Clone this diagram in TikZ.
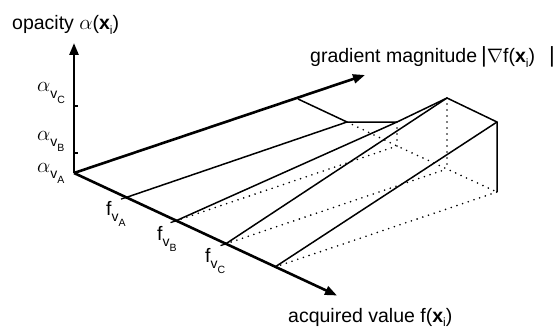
\documentclass[tikz,border=0pt]{standalone}
\usepackage{fix-cm}
\usepackage{fontspec}
\setmainfont{Liberation Sans}
\usetikzlibrary{arrows.meta}
\newcommand\xsubi{\textbf{x}\raisebox{-0.22em}{\fontsize{12}{12}\selectfont i}}
\newcommand\alsym{{\fontsize{21}{21}\selectfont$\alpha$}}
\newcommand\sublab[2]{#1\raisebox{-0.35em}{\fontsize{14}{14}\selectfont v\raisebox{-0.3em}{\fontsize{10.5}{10.5}\selectfont #2}}}
\begin{document}
\begin{tikzpicture}[x=1pt,y=-1pt,
  axis/.style={line width=2.6pt,-{Triangle[length=12pt,width=9pt]}},
  thin/.style={line width=1.5pt,line join=miter},
  dots/.style={line width=1.8pt,line cap=round,dash pattern=on 0pt off 6pt},
  tick/.style={line width=1.3pt},
  lab/.style={inner sep=0pt,anchor=base west,font=\fontsize{19.5}{22}\selectfont}]
\useasboundingbox (0,0) rectangle (554,329);
% coordinates
\coordinate (O) at (74,173);
\coordinate (atip) at (74,43);
\coordinate (gtip) at (365,75);
\coordinate (ftip) at (337,295.5);
\coordinate (Ga) at (298,99);
\coordinate (fA) at (126,197.5);
\coordinate (fB) at (175.5,221);
\coordinate (fC) at (225.5,244);
\coordinate (fD) at (275,267);
\coordinate (AG) at (347,122);
\coordinate (BGf) at (397,146);
\coordinate (CGf) at (447,169);
\coordinate (DGf) at (497,192);
\coordinate (BGt) at (397,122);
\coordinate (CGt) at (447,98);
\coordinate (DGt) at (497,122);
\coordinate (tC) at (74,106);
\coordinate (tB) at (74,153);
% dotted hidden lines
\draw[dots] (fB) -- (BGf);
\draw[dots] (fC) -- (CGf);
\draw[dots] (fD) -- (DGf);
\draw[dots] (AG) -- (BGf) -- (CGf) -- (DGf);
\draw[dots] (BGt) -- (BGf);
\draw[dots] (CGt) -- (CGf);
% solid lines
\draw[thin] (fA) -- (AG);
\draw[thin] (Ga) -- (AG) -- (BGt) -- (CGt) -- (DGt) -- (DGf);
\draw[thin] (fB) -- (BGt);
\draw[thin] (fC) -- (CGt);
\draw[thin] (fD) -- (DGt);
% ticks
\draw[tick] ([xshift=-1pt]tC) -- ([xshift=3.5pt]tC);
\draw[tick] ([xshift=-1pt]tB) -- ([xshift=3.5pt]tB);
\draw[tick] (fA) -- ++(-5,1.6);
\draw[tick] (fB) -- ++(-5,1.6);
\draw[tick] (fC) -- ++(-5,1.6);
% axes
\draw[axis] (O) -- (atip);
\draw[axis] (O) -- (gtip);
\draw[axis] (O) -- (ftip);
% labels
\node[lab] (lop) at (12,30) {opacity \alsym(\xsubi)};
\node[lab] (lgr) at (310,63) {gradient magnitude\hspace{4pt}{\fontsize{22}{22}\selectfont|}$\nabla$f(\xsubi)\hspace{14pt}{\fontsize{22}{22}\selectfont|}};
\node[lab] (lac) at (288,322.5) {acquired value f(\xsubi)};
\node[lab] (aC) at (37,92) {\sublab{\alsym}{C}};
\node[lab] (aB) at (37,140) {\sublab{\alsym}{B}};
\node[lab] (aA) at (37,172) {\sublab{\alsym}{A}};
\node[lab] (fvA) at (106,215) {\sublab{f}{A}};
\node[lab] (fvB) at (157,240) {\sublab{f}{B}};
\node[lab] (fvC) at (205,262) {\sublab{f}{C}};
\end{tikzpicture}
\end{document}
